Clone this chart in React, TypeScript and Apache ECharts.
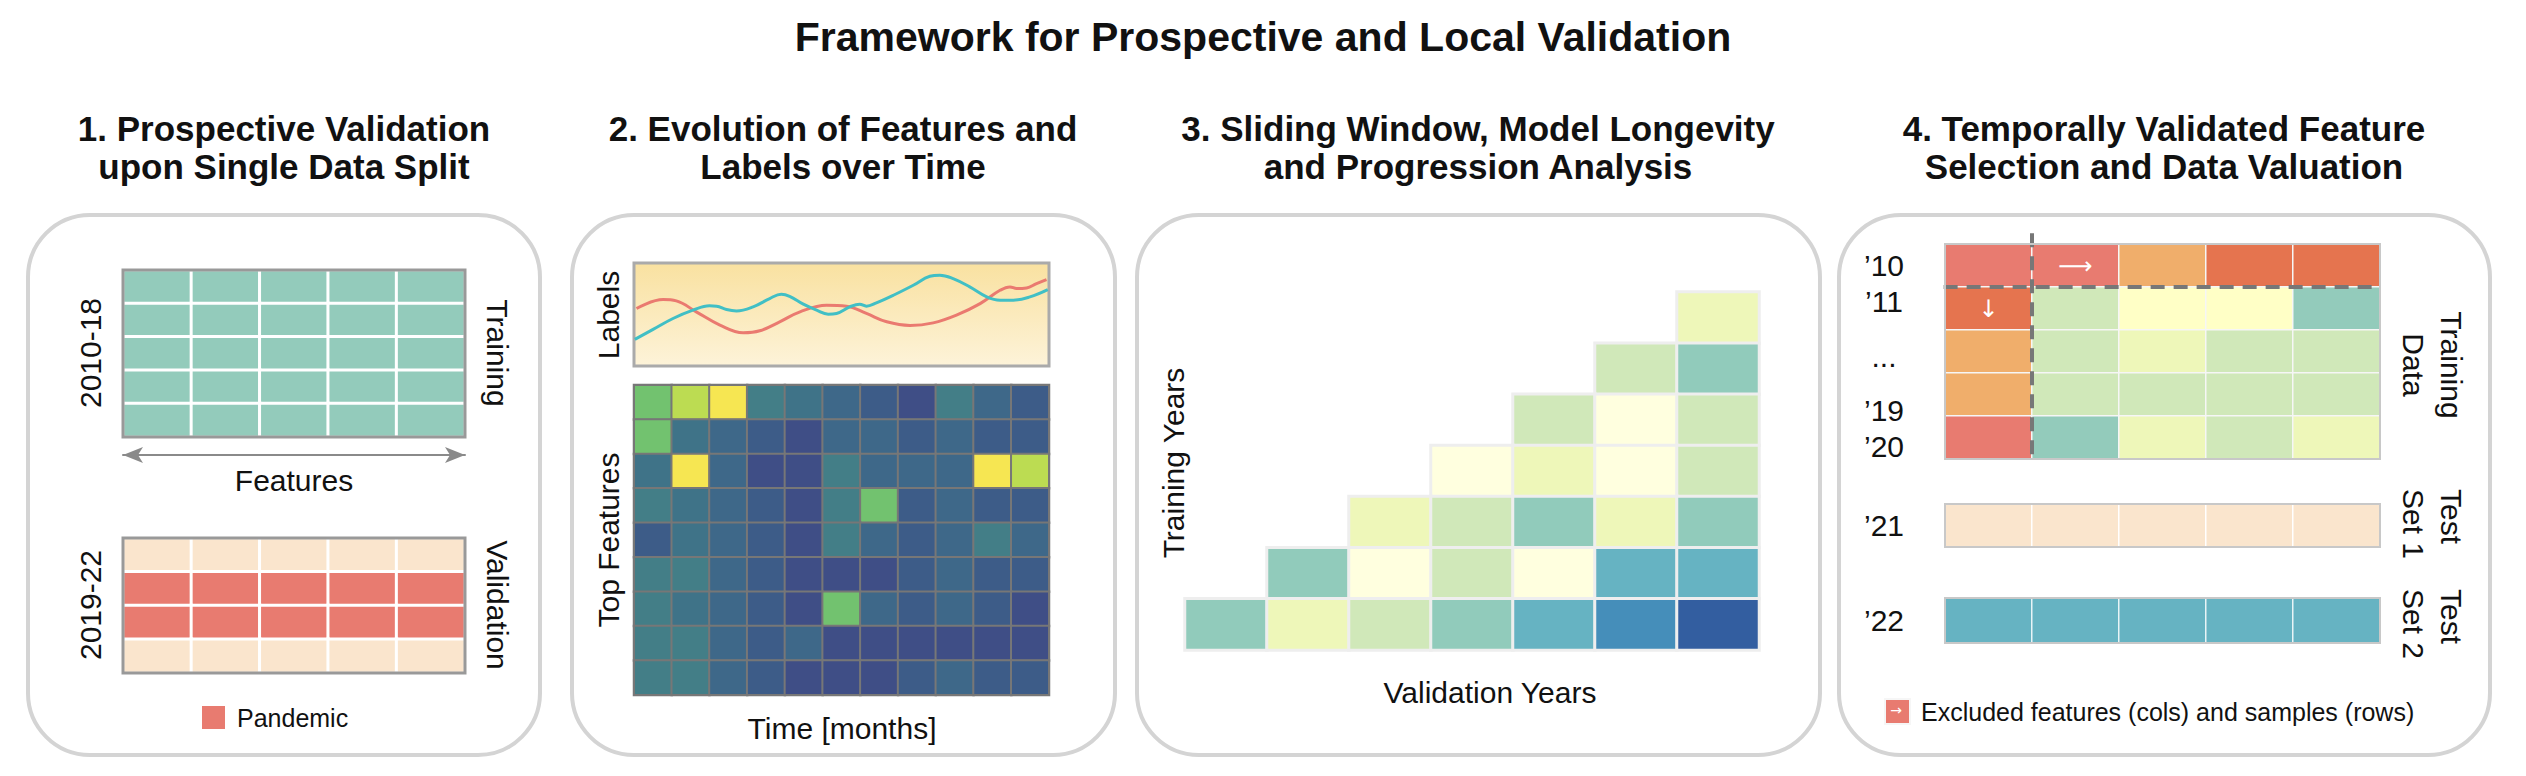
import { useEffect, useRef } from "react";
import * as echarts from "echarts";

const FONT = '"Liberation Sans", Arial, Helvetica, sans-serif';

// shared category palette (index = code used in the split / selection matrices)
const categoryColors = [
  "#93cbbb", // 0 training / kept teal
  "#fae5cd", // 1 validation / test set 1
  "#e87b70", // 2 pandemic / excluded
  "#f0ae6b", // 3 excluded orange
  "#e5744f", // 4 excluded red-orange
  "#d0e8b9", // 5 light green
  "#ffffc6", // 6 light yellow
  "#eef7b9", // 7 yellow-green
  "#66b3c2" // 8 test set 2
];

// 1. single data split
const splitCols = ["F1", "F2", "F3", "F4", "F5"];
const trainingRows = ["2010", "2012", "2014", "2016", "2018"];
const trainingCodes = [
  [0, 0, 0, 0, 0],
  [0, 0, 0, 0, 0],
  [0, 0, 0, 0, 0],
  [0, 0, 0, 0, 0],
  [0, 0, 0, 0, 0]
];
const validationRows = ["2019", "2020", "2021", "2022"];
const validationCodes = [
  [1, 1, 1, 1, 1],
  [2, 2, 2, 2, 2],
  [2, 2, 2, 2, 2],
  [1, 1, 1, 1, 1]
];

// 2. evolution of labels and features
const labelRedX = [0.6, 7, 10.2, 15, 20.7, 26.3, 30.3, 35.1, 40, 46.4, 51.2, 56, 60.9, 66.5, 72.1, 77.7, 83.4, 88.2, 90.6, 92.2, 94.6, 97, 99.4];
const labelRedY = [55.8, 64.5, 63.2, 52.6, 39.7, 32.3, 34.2, 42.9, 52.6, 59, 58.1, 51, 42.9, 39.4, 41.9, 49.4, 60.6, 73.5, 76.8, 75.2, 75.8, 80, 83.9];
const labelTealX = [0.2, 4.6, 9.4, 14.2, 18.2, 19.9, 22.3, 24.7, 28.7, 32.7, 35.5, 37.5, 40.8, 44, 46.8, 48.8, 52, 54.4, 56, 58.4, 62.5, 67.3, 71.3, 73.7, 76.9, 80.9, 85, 88.2, 91.4, 95.4, 99.7];
const labelTealY = [25.8, 35.5, 46.1, 54.2, 58.4, 58.1, 54.8, 53.5, 57.4, 65.5, 69.7, 67.7, 60, 54.2, 50.3, 51, 57.4, 60, 58.1, 61.3, 68.7, 78.4, 87.1, 88.1, 84.8, 76.8, 67.1, 63.9, 63.9, 67.1, 74.2];
const months = ["M1", "M2", "M3", "M4", "M5", "M6", "M7", "M8", "M9", "M10", "M11"];
const topFeatures = ["T1", "T2", "T3", "T4", "T5", "T6", "T7", "T8", "T9"];
const featureLevels = [
  [5, 6, 7, 4, 3, 2, 1, 0, 4, 2, 1],
  [5, 3, 2, 1, 0, 2, 2, 1, 2, 1, 1],
  [3, 7, 2, 0, 0, 4, 2, 2, 2, 7, 6],
  [4, 3, 2, 1, 0, 4, 5, 1, 2, 1, 1],
  [1, 3, 2, 1, 0, 4, 2, 1, 2, 4, 2],
  [4, 4, 2, 1, 0, 0, 0, 1, 2, 1, 1],
  [4, 3, 2, 1, 0, 5, 2, 1, 2, 1, 0],
  [4, 4, 2, 1, 2, 0, 0, 0, 0, 0, 0],
  [4, 4, 2, 1, 0, 0, 0, 1, 2, 1, 1]
];
const viridisColors = ["#3f4e86", "#3d5c88", "#3e6889", "#3f7388", "#437e87", "#72c26f", "#bcdc52", "#f6e652"];

// 3. sliding window
const validationYears = ["2016", "2017", "2018", "2019", "2020", "2021", "2022"];
const trainingYears = ["2010", "2011", "2012", "2013", "2014", "2015", "2016"];
const windowLevels: (number | null)[][] = [
  [null, null, null, null, null, null, 1],
  [null, null, null, null, null, 2, 3],
  [null, null, null, null, 2, 0, 2],
  [null, null, null, 0, 1, 0, 2],
  [null, null, 1, 2, 3, 1, 3],
  [null, 3, 0, 2, 0, 4, 4],
  [3, 1, 2, 3, 4, 5, 6]
];
const ylgnbuColors = ["#ffffdf", "#eef7b9", "#d0e8b9", "#91cbbb", "#66b3c2", "#458eba", "#335ea0"];

// 4. feature selection and data valuation
const selCols = ["C1", "C2", "C3", "C4", "C5"];
const selRows = ["\u201910", "\u201911", "...", "\u201919", "\u201920"];
const selCodes = [
  [2, 2, 3, 4, 4],
  [4, 5, 6, 6, 0],
  [3, 5, 7, 5, 5],
  [3, 5, 5, 5, 5],
  [2, 0, 7, 5, 7]
];
const exclusionArrows = [
  { col: 1, row: 0, glyph: "\u27f6" },
  { col: 0, row: 1, glyph: "\u2193" }
];
const excludedColBoundary = 1;
const excludedRowBoundary = 1;
const testSet1Codes = [1, 1, 1, 1, 1];
const testSet2Codes = [8, 8, 8, 8, 8];

const matrixData = (m: (number | null)[][]) => {
  const out: number[][] = [];
  m.forEach((row, r) => row.forEach((v, c) => { if (v !== null) out.push([c, r, v]); }));
  return out;
};

const txt = (x: number, y: number, text: string, o: any = {}) => ({
  type: "text",
  x,
  y,
  rotation: o.rotation ?? 0,
  z: 100,
  silent: true,
  style: {
    text,
    fill: o.color ?? "#111",
    fontSize: o.size ?? 30,
    fontWeight: o.weight ?? "normal",
    fontFamily: o.family ?? FONT,
    align: o.align ?? "center",
    textAlign: o.align ?? "center",
    verticalAlign: "middle",
    textVerticalAlign: "middle",
    lineHeight: o.lineHeight ?? 36
  }
});

const box = (x: number, w: number) => ({
  type: "rect",
  silent: true,
  shape: { x, y: 215, width: w, height: 540, r: 62 },
  style: { fill: "none", stroke: "#d4d4d4", lineWidth: 4 }
});

const hidden = { show: false };

function buildOption(): any {
  const grid = (left: number, top: number, width: number, height: number, extra: any = {}) => ({
    left, top, width, height, outerBoundsMode: "none", containLabel: false, ...extra
  });
  const yearLabelShift = [0, -7, 5, 16, 9];

  return {
    animation: false,
    backgroundColor: "#ffffff",
    textStyle: { fontFamily: FONT },
    grid: [
      grid(123, 270, 342, 167, { show: true, borderColor: "#999", borderWidth: 3, z: 10 }),
      grid(123, 538, 342, 135, { show: true, borderColor: "#999", borderWidth: 3, z: 10 }),
      grid(634, 263, 415, 103, {
        show: true,
        borderColor: "#aaa",
        borderWidth: 3,
        backgroundColor: new echarts.graphic.LinearGradient(0, 0, 0, 1, [
          { offset: 0, color: "#f9e1a0" },
          { offset: 1, color: "#fdf3d9" }
        ])
      }),
      grid(634, 385, 415, 310, { show: true, borderColor: "#777", borderWidth: 2, z: 10 }),
      grid(1185, 292, 574, 358),
      grid(1945, 244, 435, 215, { show: true, borderColor: "#c8c8c8", borderWidth: 2, z: 10 }),
      grid(1945, 244, 435, 215),
      grid(1945, 504, 435, 43, { show: true, borderColor: "#c8c8c8", borderWidth: 2, z: 10 }),
      grid(1945, 598, 435, 45, { show: true, borderColor: "#c8c8c8", borderWidth: 2, z: 10 })
    ],
    xAxis: [
      {
        gridIndex: 0, type: "category", data: splitCols, position: "bottom", offset: 18,
        axisLine: { show: true, symbol: ["arrow", "arrow"], symbolSize: [12, 20], lineStyle: { color: "#8a8a8a", width: 2 } },
        axisTick: hidden, axisLabel: hidden, splitLine: hidden
      },
      { gridIndex: 1, type: "category", data: splitCols, show: false },
      { gridIndex: 2, type: "value", min: 0, max: 100, show: false },
      { gridIndex: 3, type: "category", data: months, show: false },
      { gridIndex: 4, type: "category", data: validationYears, show: false },
      { gridIndex: 5, type: "category", data: selCols, show: false },
      { gridIndex: 6, type: "value", min: 0, max: 5, show: false },
      { gridIndex: 7, type: "category", data: selCols, show: false },
      { gridIndex: 8, type: "category", data: selCols, show: false }
    ],
    yAxis: [
      { gridIndex: 0, type: "category", data: trainingRows, inverse: true, show: false },
      { gridIndex: 1, type: "category", data: validationRows, inverse: true, show: false },
      { gridIndex: 2, type: "value", min: 0, max: 100, show: false },
      { gridIndex: 3, type: "category", data: topFeatures, inverse: true, show: false },
      { gridIndex: 4, type: "category", data: trainingYears, inverse: true, show: false },
      {
        gridIndex: 5, type: "category", data: selRows, inverse: true,
        axisLine: hidden, axisTick: hidden, splitLine: hidden,
        axisLabel: {
          fontSize: 30, color: "#111", margin: 61, align: "center",
          formatter: (v: string, i: number) => `{r${i}|${v}}`,
          rich: Object.fromEntries(yearLabelShift.map((s, i) => [
            `r${i}`,
            { fontSize: 30, color: "#111", padding: s >= 0 ? [2 * s, 0, 0, 0] : [0, 0, -2 * s, 0] }
          ]))
        }
      },
      { gridIndex: 6, type: "value", min: 0, max: 5, inverse: true, show: false },
      {
        gridIndex: 7, type: "category", data: ["\u201921"],
        axisLine: hidden, axisTick: hidden, splitLine: hidden,
        axisLabel: { fontSize: 30, color: "#111", margin: 61, align: "center" }
      },
      {
        gridIndex: 8, type: "category", data: ["\u201922"],
        axisLine: hidden, axisTick: hidden, splitLine: hidden,
        axisLabel: { fontSize: 30, color: "#111", margin: 61, align: "center" }
      }
    ],
    visualMap: [
      {
        type: "piecewise", show: false, dimension: 2, seriesIndex: [0, 1, 6, 9, 10],
        pieces: categoryColors.map((color, value) => ({ value, color }))
      },
      { type: "continuous", show: false, dimension: 2, seriesIndex: 4, min: 0, max: 7, inRange: { color: viridisColors } },
      { type: "continuous", show: false, dimension: 2, seriesIndex: 5, min: 0, max: 6, inRange: { color: ylgnbuColors } }
    ],
    legend: [
      {
        left: 195, top: 699, itemWidth: 25, itemHeight: 25, selectedMode: false,
        textStyle: { fontSize: 25, color: "#111", padding: [0, 0, 0, 6] },
        data: [{ name: "Pandemic", icon: "rect", itemStyle: { color: categoryColors[2] } }]
      },
      {
        left: 1879, top: 693, itemWidth: 25, itemHeight: 25, selectedMode: false,
        textStyle: { fontSize: 25, color: "#111", padding: [0, 0, 0, 6] },
        data: [{ name: "Excluded features (cols) and samples (rows)", icon: "rect", itemStyle: { color: categoryColors[2] } }]
      }
    ],
    series: [
      {
        type: "heatmap", name: "Training", xAxisIndex: 0, yAxisIndex: 0, data: matrixData(trainingCodes),
        itemStyle: { borderColor: "#ffffff", borderWidth: 3 }, emphasis: { disabled: true }
      },
      {
        type: "heatmap", name: "Pandemic", xAxisIndex: 1, yAxisIndex: 1, data: matrixData(validationCodes),
        itemStyle: { borderColor: "#ffffff", borderWidth: 3 }, emphasis: { disabled: true }
      },
      {
        type: "line", name: "Label A", xAxisIndex: 2, yAxisIndex: 2, smooth: 0.4, symbol: "none",
        data: labelRedX.map((x, i) => [x, labelRedY[i]]),
        lineStyle: { color: "#ea7a70", width: 3 }
      },
      {
        type: "line", name: "Label B", xAxisIndex: 2, yAxisIndex: 2, smooth: 0.4, symbol: "none",
        data: labelTealX.map((x, i) => [x, labelTealY[i]]),
        lineStyle: { color: "#41bfc5", width: 3 }
      },
      {
        type: "heatmap", name: "Top Features", xAxisIndex: 3, yAxisIndex: 3, data: matrixData(featureLevels),
        itemStyle: { borderColor: "#777777", borderWidth: 2 }, emphasis: { disabled: true }
      },
      {
        type: "heatmap", name: "Sliding Window", xAxisIndex: 4, yAxisIndex: 4, data: matrixData(windowLevels),
        itemStyle: { borderColor: "#eeeeee", borderWidth: 3 }, emphasis: { disabled: true }
      },
      {
        type: "heatmap", name: "Excluded features (cols) and samples (rows)", xAxisIndex: 5, yAxisIndex: 5,
        data: matrixData(selCodes).map(([c, r, v]) => {
          const arrow = exclusionArrows.find((a) => a.col === c && a.row === r);
          return arrow
            ? { value: [c, r, v], label: { show: true, formatter: arrow.glyph, color: "#fff", fontSize: 24, fontFamily: "DejaVu Sans" } }
            : { value: [c, r, v] };
        }),
        itemStyle: { borderColor: "#f6f6f6", borderWidth: 1.5 }, emphasis: { disabled: true }
      },
      {
        type: "line", name: "Column cut", xAxisIndex: 6, yAxisIndex: 6, symbol: "none", clip: false,
        data: [[excludedColBoundary, -0.25], [excludedColBoundary, selRows.length]],
        lineStyle: { color: "#777", width: 4, type: [14, 9] }
      },
      {
        type: "line", name: "Row cut", xAxisIndex: 6, yAxisIndex: 6, symbol: "none", clip: false,
        data: [[-0.28, excludedRowBoundary], [selCols.length, excludedRowBoundary]],
        lineStyle: { color: "#777", width: 4, type: [14, 9] }
      },
      {
        type: "heatmap", name: "Test Set 1", xAxisIndex: 7, yAxisIndex: 7, data: testSet1Codes.map((v, c) => [c, 0, v]),
        itemStyle: { borderColor: "#ffffff", borderWidth: 1.5 }, emphasis: { disabled: true }
      },
      {
        type: "heatmap", name: "Test Set 2", xAxisIndex: 8, yAxisIndex: 8, data: testSet2Codes.map((v, c) => [c, 0, v]),
        itemStyle: { borderColor: "#e8f4f6", borderWidth: 1.5 }, emphasis: { disabled: true }
      }
    ],
    graphic: [
      box(28, 512),
      box(572, 543),
      box(1137, 683),
      box(1839, 651),
      txt(1263, 37, "Framework for Prospective and Local Validation", { size: 41, weight: "bold" }),
      txt(284, 147, "1. Prospective Validation\nupon Single Data Split", { size: 35, weight: "bold", lineHeight: 38 }),
      txt(843, 147, "2. Evolution of Features and\nLabels over Time", { size: 35, weight: "bold", lineHeight: 38 }),
      txt(1478, 147, "3. Sliding Window, Model Longevity\nand Progression Analysis", { size: 35, weight: "bold", lineHeight: 38 }),
      txt(2164, 147, "4. Temporally Validated Feature\nSelection and Data Valuation", { size: 35, weight: "bold", lineHeight: 38 }),
      txt(90, 353, "2010-18", { rotation: Math.PI / 2 }),
      txt(497, 353, "Training", { rotation: -Math.PI / 2 }),
      txt(294, 480, "Features"),
      txt(90, 605, "2019-22", { rotation: Math.PI / 2 }),
      txt(497, 605, "Validation", { rotation: -Math.PI / 2 }),
      txt(608, 315, "Labels", { rotation: Math.PI / 2 }),
      txt(608, 540, "Top Features", { rotation: Math.PI / 2 }),
      txt(842, 728, "Time [months]"),
      txt(1173, 463, "Training Years", { rotation: Math.PI / 2 }),
      txt(1490, 692, "Validation Years"),
      txt(2432, 365, "Training\nData", { rotation: -Math.PI / 2, lineHeight: 38 }),
      txt(2432, 489, "Test\nSet 1", { rotation: -Math.PI / 2, lineHeight: 38, align: "left" }),
      txt(2432, 589, "Test\nSet 2", { rotation: -Math.PI / 2, lineHeight: 38, align: "left" }),
      txt(1896, 710, "\u2192", { size: 14, color: "#ffffff", family: "DejaVu Sans" })
    ]
  };
}

export default function App() {
  const ref = useRef<HTMLDivElement | null>(null);

  useEffect(() => {
    if (!ref.current) {
      return;
    }
    const chart = echarts.init(ref.current, undefined, { renderer: "svg" });
    chart.setOption(buildOption());
    return () => {
      chart.dispose();
    };
  }, []);

  return <div ref={ref} style={{ position: "fixed", left: 0, top: 0, width: 2526, height: 776, background: "#fff" }} />;
}
